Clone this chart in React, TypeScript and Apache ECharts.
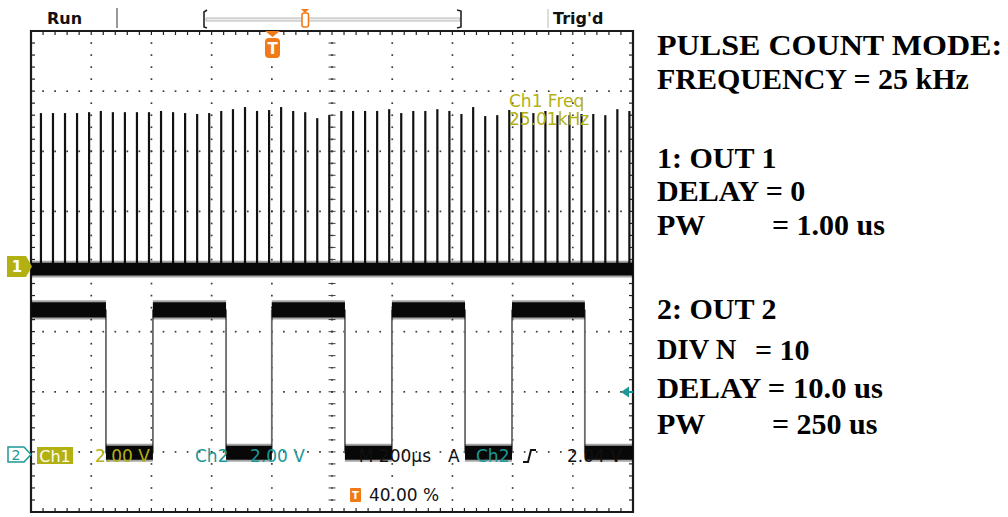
import React, { useEffect, useRef } from "react";
import * as echarts from "echarts";

// ---- data (time in µs relative to trigger, volts) ----
const timeMin = -800;
const timeMax = 1200;
const timePerDiv = 200;
const ch1VoltsPerDiv = 2;
const ch2VoltsPerDiv = 2;
const ch1Position = 0.04; // divisions
const ch2Position = -3.03; // divisions

const ch1PulseTimes = [
  -767, -727, -687, -647, -607, -568, -528, -488, -448, -408,
  -368, -328, -288, -248, -208, -168, -129, -89, -49, -9,
  31, 71, 111, 151, 191, 231, 270, 310, 350, 390,
  430, 470, 510, 550, 590, 630, 669, 709, 749, 789,
  829, 869, 909, 949, 989, 1029, 1068, 1108, 1148, 1188,
];
const ch1PulseVolts = [
  5.19, 5.19, 5.19, 5.19, 5.22, 5.26, 5.22, 5.22, 5.22, 5.22,
  5.26, 5.22, 5.19, 5.16, 5.19, 5.26, 5.32, 5.39, 5.26, 5.29,
  5.39, 5.26, 5.22, 5.02, 5.12, 5.26, 5.26, 5.26, 5.26, 5.32,
  5.19, 5.26, 5.26, 5.32, 5.26, 5.16, 5.39, 5.09, 5.12, 5.29,
  5.22, 5.19, 5.26, 5.12, 5.12, 5.16, 5.16, 5.12, 5.32, 5.26,
];
const ch1BaseVolts = 0;
const ch1NoiseVolts = 0.23;

const ch2SegStart = [-800, -551, -395, -152, 0, 243, 399, 642, 798, 1040];
const ch2SegEnd = [-551, -395, -152, 0, 243, 399, 642, 798, 1040, 1200];
const ch2SegVolts = [4.78, 0.03, 4.78, 0.03, 4.78, 0.03, 4.78, 0.03, 4.78, 0.03];
const ch2NoiseVolts = [0.27, 0.25, 0.27, 0.25, 0.27, 0.25, 0.27, 0.25, 0.27, 0.25];

const rightLines = [
  { text: "PULSE COUNT MODE:", y: 45, sx: 1.07 },
  { text: "FREQUENCY = 25 kHz", y: 78, sx: 1.0 },
  { text: "1: OUT 1", y: 157, sx: 1.0 },
  { text: "DELAY = 0", y: 190, sx: 1.0 },
  { text: "PW", y: 224, sx: 1.0, rest: "= 1.00 us", restX: 772 },
  { text: "2: OUT 2", y: 308, sx: 1.0 },
  { text: "DIV N", y: 349, sx: 0.95, rest: "= 10", restX: 755 },
  { text: "DELAY = 10.0 us", y: 388, sx: 1.02 },
  { text: "PW", y: 423, sx: 1.0, rest: "= 250 us", restX: 772 },
];

const OLIVE = "#b3b014";
const TEAL = "#1b9898";
const ORANGE = "#f07a18";
const SCOPE_FONT = "DejaVu Sans";

const d1 = (v: number) => ch1Position + v / ch1VoltsPerDiv;
const d2 = (v: number) => ch2Position + v / ch2VoltsPerDiv;

function renderGraticule(_p: any, api: any) {
  const [x0, yb] = api.coord([timeMin, -4]);
  const [x1, yt] = api.coord([timeMax, 4]);
  const dx = (x1 - x0) / 10;
  const dy = (yb - yt) / 8;
  const children: any[] = [];
  const dot = (x: number, y: number) =>
    children.push({ type: "rect", shape: { x: x - 0.8, y: y - 0.8, width: 1.7, height: 1.7 }, style: { fill: "#3a3a3a" } });
  const seg = (xa: number, ya: number, xb: number, yb2: number, w = 1, c = "#444") =>
    children.push({ type: "line", shape: { x1: xa, y1: ya, x2: xb, y2: yb2 }, style: { stroke: c, lineWidth: w } });
  for (let i = 1; i < 10; i++) {
    if (i === 5) continue;
    const x = x0 + i * dx;
    for (let j = 1; j < 40; j++) dot(x, yt + (j * dy) / 5);
  }
  for (let k = 1; k < 8; k++) {
    if (k === 4) continue;
    const y = yt + k * dy;
    for (let j = 1; j < 50; j++) dot(x0 + (j * dx) / 5, y);
  }
  const cx = x0 + 5 * dx;
  const cy = yt + 4 * dy;
  for (let j = 1; j < 40; j++) {
    const y = yt + (j * dy) / 5;
    seg(cx - 3.5, y, cx + 3.5, y);
    dot(cx, y);
  }
  for (let j = 1; j < 50; j++) {
    const x = x0 + (j * dx) / 5;
    seg(x, cy - 3.5, x, cy + 3.5);
    dot(x, cy);
  }
  for (let j = 1; j < 50; j++) {
    const x = x0 + (j * dx) / 5;
    seg(x, yt, x, yt + 4, 1.2, "#222");
    seg(x, yb - 4, x, yb, 1.2, "#222");
  }
  for (let j = 1; j < 40; j++) {
    const y = yt + (j * dy) / 5;
    seg(x0, y, x0 + 4, y, 1.2, "#222");
    seg(x1 - 4, y, x1, y, 1.2, "#222");
  }
  children.push({
    type: "rect",
    shape: { x: x0, y: yt, width: x1 - x0, height: yb - yt },
    style: { fill: "none", stroke: "#1a1a1a", lineWidth: 2.2 },
  });
  return { type: "group", children };
}

function makeBandRenderer(toDiv: (v: number) => number) {
  return (_p: any, api: any) => {
    const s = api.value(0);
    const e = api.value(1);
    const v = api.value(2);
    const n = api.value(3);
    const a = api.coord([s, toDiv(v + n)]);
    const b = api.coord([e, toDiv(v - n)]);
    return {
      type: "group",
      children: [
        {
          type: "rect",
          shape: { x: a[0], y: a[1] - 1.5, width: b[0] - a[0], height: b[1] - a[1] + 3 },
          style: { fill: "rgba(0,0,0,0.35)" },
        },
        {
          type: "rect",
          shape: { x: a[0], y: a[1] + 0.5, width: b[0] - a[0], height: b[1] - a[1] - 1 },
          style: { fill: "#080808" },
        },
      ],
    };
  };
}

function renderPulse(_p: any, api: any) {
  const t = api.value(0);
  const v = api.value(1);
  const top = api.coord([t, d1(v)]);
  const base = api.coord([t, d1(ch1BaseVolts)]);
  return {
    type: "line",
    shape: { x1: top[0], y1: top[1], x2: base[0], y2: base[1] },
    style: { stroke: "#111", lineWidth: 2.2 },
  };
}

export default function App() {
  const ref = useRef<HTMLDivElement>(null);
  useEffect(() => {
    if (!ref.current) return;
    const chart = echarts.init(ref.current, undefined, { renderer: "svg" });

    const ch2Line: number[][] = [];
    for (let i = 0; i < ch2SegStart.length; i++) {
      ch2Line.push([ch2SegStart[i], d2(ch2SegVolts[i])]);
      ch2Line.push([ch2SegEnd[i], d2(ch2SegVolts[i])]);
    }
    const ch2Bands = ch2SegStart.map((s, i) => [s, ch2SegEnd[i], ch2SegVolts[i], ch2NoiseVolts[i]]);
    const ch1Bands = [[timeMin, timeMax, ch1BaseVolts, ch1NoiseVolts]];
    const pulses = ch1PulseTimes.map((t, i) => [t, ch1PulseVolts[i]]);

    const txt = (x: number, y: number, text: string, fill: string, extra: any = {}) => ({
      type: "text",
      x,
      y,
      z: 110,
      scaleX: extra.sx || 1,
      style: {
        text,
        fill,
        font: `${extra.weight || "normal"} ${extra.size || 16}px "${extra.family || SCOPE_FONT}"`,
        align: extra.align || "left",
        verticalAlign: "middle",
      },
    });

    const graphics: any[] = [
      // top status bar
      txt(47, 18, "Run", "#111", { weight: "bold", size: 16 }),
      { type: "line", z: 100, shape: { x1: 117, y1: 8, x2: 117, y2: 28 }, style: { stroke: "#777", lineWidth: 1.5 } },
      { type: "rect", z: 100, shape: { x: 206, y: 18, width: 254, height: 3 }, style: { fill: "#eee", stroke: "#aaa", lineWidth: 0.8 } },
      { type: "polyline", z: 100, shape: { points: [[207, 10], [204, 12], [204, 27], [207, 28]] }, style: { stroke: "#222", lineWidth: 1.6, fill: "none" } },
      { type: "polyline", z: 100, shape: { points: [[457, 10], [461, 11], [461, 27], [457, 28]] }, style: { stroke: "#222", lineWidth: 1.6, fill: "none" } },
      { type: "polygon", z: 101, shape: { points: [[301, 9], [309, 9], [305, 13]] }, style: { fill: ORANGE } },
      { type: "rect", z: 101, shape: { x: 302, y: 13, width: 6.5, height: 14, r: 2 }, style: { fill: "#fff", stroke: ORANGE, lineWidth: 1.6 } },
      { type: "line", z: 100, shape: { x1: 548, y1: 9, x2: 548, y2: 28 }, style: { stroke: "#ddd", lineWidth: 2 } },
      txt(553, 18, "Trig'd", "#111", { size: 16, weight: "bold" }),
      // trigger position marker
      { type: "polygon", z: 101, shape: { points: [[265, 31], [280, 31], [272.5, 37]] }, style: { fill: ORANGE } },
      { type: "rect", z: 101, shape: { x: 265, y: 38, width: 15, height: 20, r: 4 }, style: { fill: ORANGE } },
      txt(272.5, 48.5, "T", "#fff", { weight: "bold", size: 15, align: "center" }),
      // ch1 marker
      { type: "polygon", z: 101, shape: { points: [[7, 256], [26, 256], [32, 266.5], [26, 277], [7, 277]] }, style: { fill: OLIVE } },
      txt(17, 267, "1", "#fff", { weight: "bold", size: 15, align: "center" }),
      // ch2 marker
      { type: "polygon", z: 101, shape: { points: [[8, 447], [24, 447], [31, 454.5], [24, 462], [8, 462]] }, style: { fill: "#fff", stroke: TEAL, lineWidth: 1.5 } },
      txt(16, 455, "2", TEAL, { size: 14, align: "center" }),
      // trigger level arrow
      { type: "polygon", z: 101, shape: { points: [[621, 392], [629, 386.5], [629, 397.5]] }, style: { fill: TEAL } },
      { type: "line", z: 101, shape: { x1: 628, y1: 392, x2: 633, y2: 392 }, style: { stroke: TEAL, lineWidth: 2 } },
      // measurement readout
      txt(509, 101, "Ch1 Freq", OLIVE, { size: 17 }),
      txt(509, 119, "25.01kHz", OLIVE, { size: 17 }),
      // bottom readouts
      { type: "rect", z: 100, shape: { x: 37, y: 447, width: 36, height: 17 }, style: { fill: OLIVE } },
      txt(55, 456, "Ch1", "#fbfbe8", { size: 16, align: "center" }),
      txt(95, 456, "2.00 V", OLIVE, { size: 17 }),
      txt(195, 456, "Ch2", TEAL, { size: 17 }),
      txt(250, 456, "2.00 V", TEAL, { size: 17 }),
      txt(431, 456, "M 200µs", "#111", { size: 17, align: "right" }),
      txt(448, 456, "A", "#111", { size: 17 }),
      txt(476, 456, "Ch2", TEAL, { size: 17 }),
      { type: "polyline", z: 100, shape: { points: [[523, 462], [528, 462], [531, 450], [536, 450]] }, style: { stroke: "#111", lineWidth: 2, fill: "none" } },
      txt(567, 456, "2.04 V", "#111", { size: 17 }),
      { type: "rect", z: 100, shape: { x: 350, y: 488, width: 11, height: 14, r: 1 }, style: { fill: ORANGE } },
      txt(355.5, 495.5, "T", "#fff", { weight: "bold", size: 10, align: "center" }),
      txt(369, 495, "40.00 %", "#111", { size: 17 }),
    ];
    for (const l of rightLines) {
      graphics.push(txt(657, l.y, l.text, "#000", { weight: "bold", size: 30, family: "Liberation Serif", sx: l.sx }));
      if (l.rest) graphics.push(txt(l.restX as number, l.y, l.rest, "#000", { weight: "bold", size: 30, family: "Liberation Serif" }));
    }

    chart.setOption({
      animation: false,
      backgroundColor: "#ffffff",
      grid: { left: 31, top: 31, width: 602, height: 481 },
      xAxis: { type: "value", min: timeMin, max: timeMax, interval: timePerDiv, show: false },
      yAxis: { type: "value", min: -4, max: 4, interval: 1, show: false },
      graphic: graphics,
      series: [
        { type: "custom", name: "graticule", z: 1, silent: true, clip: false, renderItem: renderGraticule, data: [[0, 0]] },
        {
          type: "line",
          name: "Ch2 edges",
          z: 2,
          data: ch2Line,
          symbol: "none",
          lineStyle: { color: "#6a6a6a", width: 1.8 },
        },
        { type: "custom", name: "Ch2", z: 3, renderItem: makeBandRenderer(d2), encode: { x: [0, 1], y: 2 }, data: ch2Bands },
        { type: "custom", name: "Ch1 pulses", z: 3, renderItem: renderPulse, encode: { x: 0, y: 1 }, data: pulses },
        { type: "custom", name: "Ch1", z: 4, renderItem: makeBandRenderer(d1), encode: { x: [0, 1], y: 2 }, data: ch1Bands },
      ],
    });
    return () => chart.dispose();
  }, []);
  return <div ref={ref} style={{ position: "absolute", left: 0, top: 0, width: 1008, height: 517 }} />;
}
